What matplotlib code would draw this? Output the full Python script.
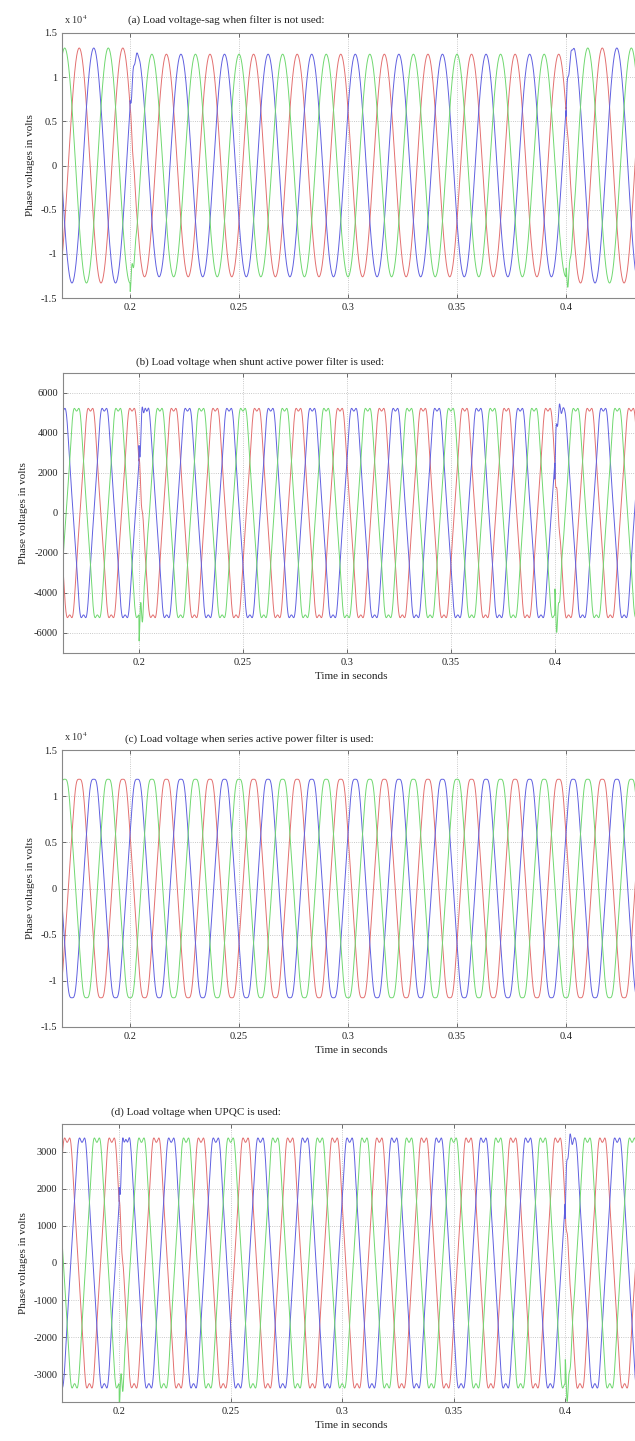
import numpy as np
import matplotlib
matplotlib.use('Agg')
import matplotlib.pyplot as plt
from matplotlib.ticker import FuncFormatter

plt.rcParams['font.family'] = ['Liberation Serif', 'DejaVu Serif']
plt.rcParams['mathtext.fontset'] = 'stix'
plt.rcParams['axes.unicode_minus'] = False

W, H = 635, 1441

# waveform parameters
freq = 50.0                      # Hz
red_peak_time = 0.1767           # s, first red crest
phase_colors = ['#e37070', '#6060e0', '#70d870']   # red, blue, green
phase_lags = [0.0, 2*np.pi/3, -2*np.pi/3]

titles = ['(a) Load voltage-sag when filter is not used:',
          '(b) Load voltage when shunt active power filter is used:',
          '(c) Load voltage when series active power filter is used:',
          '(d) Load voltage when UPQC is used:']
amp_normal = [13300, 5450, 12200, 3500]
amp_sag = [12600, 5450, 12200, 3500]
sag_start, sag_end = 0.2, 0.4
harm_5 = [0.0, 0.05, 0.02, 0.05]
harm_7 = [0.0, 0.015, 0.01, 0.02]
ring_amp = [900, 700, 0, 350]    # transient at switching instants
ylims = [(-15000, 15000), (-7000, 7000), (-15000, 15000), (-3750, 3750)]
yticks = [np.arange(-15000, 15001, 5000), np.arange(-6000, 6001, 2000),
          np.arange(-15000, 15001, 5000), np.arange(-3000, 3001, 1000)]
scaled = [True, False, True, False]
xlims = [(0.1688, 0.434), (0.1635, 0.441), (0.1688, 0.434), (0.1744, 0.4336)]
xticks = [0.2, 0.25, 0.3, 0.35, 0.4]
xtick_labels = ['0.2', '0.25', '0.3', '0.35', '0.4']
has_xlabel = [False, True, True, True]

# pixel layout: left, top, bottom of each axes; title x, title y
ax_left = [62, 63, 62, 62]
ax_top = [33, 373, 750, 1124]
ax_bot = [298, 653, 1027, 1402]
title_x = [128, 136, 125, 111]
title_y = [20, 362, 739, 1112]

t = np.arange(0.16, 0.445, 1/40000)
w = 2*np.pi*freq
phi0 = np.pi/2 - w*red_peak_time

fig = plt.figure(figsize=(W/100, H/100), dpi=100)

for i in range(4):
    left = ax_left[i]/W
    bottom = 1 - ax_bot[i]/H
    height = (ax_bot[i] - ax_top[i])/H
    ax = fig.add_axes([left, bottom, (640 - ax_left[i])/W, height])
    amp = np.where((t >= sag_start) & (t < sag_end), amp_sag[i], amp_normal[i])
    for k in range(3):
        th = w*t + phi0 - phase_lags[k]
        v = np.sin(th) - harm_5[i]*np.sin(5*th) + harm_7[i]*np.sin(7*th)
        v = amp*v
        for ts, sgn in [(sag_start, 1), (sag_end, -1)]:
            dt = t - ts
            m = dt >= 0
            ring = np.zeros_like(t)
            ring[m] = np.exp(-dt[m]/0.0015)*np.sin(2*np.pi*600*dt[m] + k*2.1)
            v = v + sgn*ring_amp[i]*ring*(1 + 0.5*k)
        ax.plot(t, v, color=phase_colors[k], lw=0.7)
    ax.set_xlim(xlims[i])
    ax.set_ylim(ylims[i])
    ax.set_yticks(yticks[i])
    ax.set_xticks(xticks)
    ax.set_xticklabels(xtick_labels)
    if scaled[i]:
        ax.yaxis.set_major_formatter(FuncFormatter(lambda v, p: f'{v/1e4:g}'))
        fig.text((ax_left[i] + 2)/W, 1 - (ax_top[i] - 7)/H, r'x 10$^{4}$',
                 fontsize=7.5, color='#333333', va='bottom', ha='left')
    ax.grid(True, color='#b8b8b8', linestyle=':', linewidth=0.6)
    ax.tick_params(direction='in', top=True, right=True, labelsize=7.5,
                   colors='#555555', labelcolor='#222222', length=3, width=0.6)
    for s in ax.spines.values():
        s.set_color('#888888')
        s.set_linewidth(0.8)
    ax.set_ylabel('Phase voltages in volts', fontsize=8, color='#222222', labelpad=4)
    if has_xlabel[i]:
        ax.set_xlabel('Time in seconds', fontsize=8, color='#222222', labelpad=4)
    fig.text(title_x[i]/W, 1 - title_y[i]/H, titles[i], fontsize=8,
             color='#222222', ha='left', va='center')

fig.savefig('out.png', dpi=100)
